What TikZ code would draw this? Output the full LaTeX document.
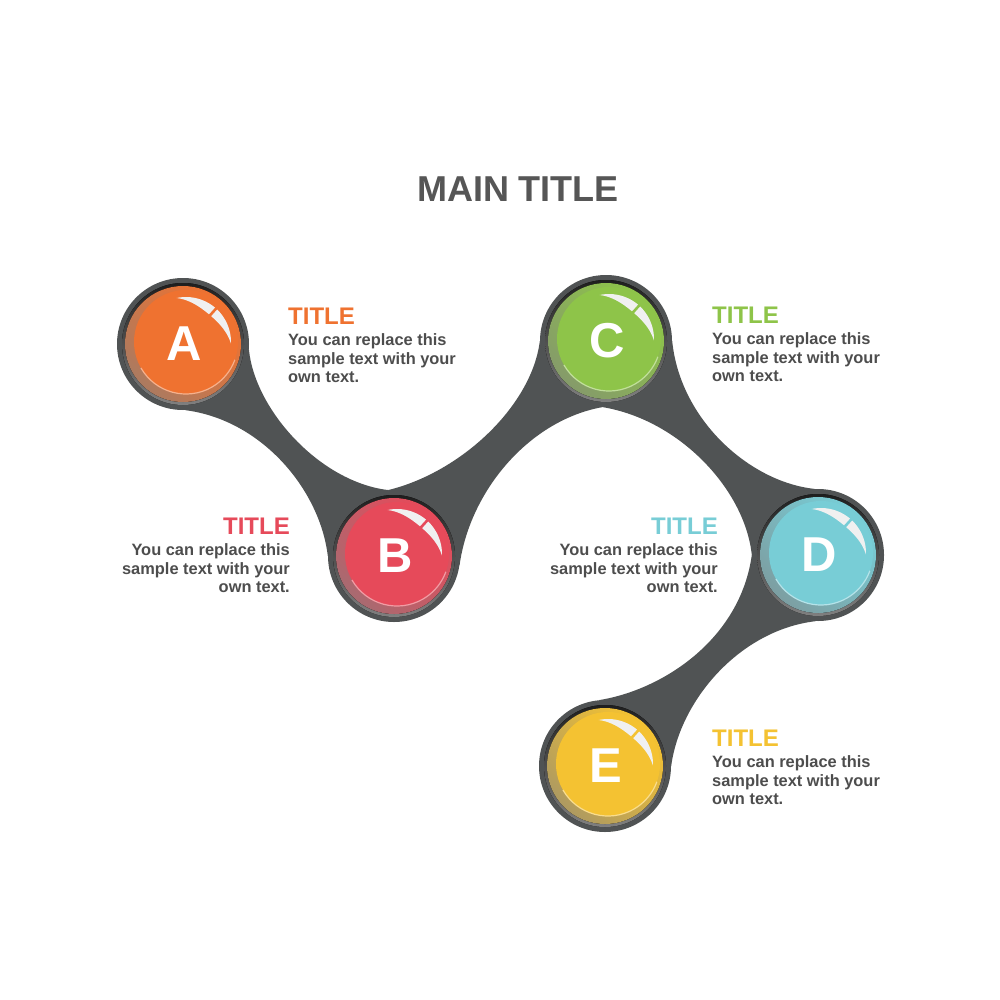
\documentclass[tikz,border=0pt]{standalone}
\usepackage{fontspec}
\setmainfont{Liberation Sans}
\usetikzlibrary{positioning}

\definecolor{bandgrey}{HTML}{505354}
\definecolor{textgrey}{HTML}{4D4D4D}
\definecolor{colA}{HTML}{EF7230}
\definecolor{colB}{HTML}{E64A5A}
\definecolor{colC}{HTML}{8EC449}
\definecolor{colD}{HTML}{78CDD6}
\definecolor{colE}{HTML}{F4C232}

% one glossy ball on top of a ring node
\newcommand{\ball}[3]{%
  \begin{scope}[shift={(#1.center)},x=1pt,y=1pt]
    \fill[top color=black!88, bottom color=black!50] (0,0) circle (61);
    \fill[left color=#2!40!gray, right color=#2, shading angle=135] (0,0) circle (58);
    \fill[#2] (3,2) circle (52);
    \draw[#2!55!white, line width=1.2pt] (3,2) ++(-150:52) arc[start angle=-150, end angle=-20, radius=52];
    \fill[white!94!black] plot[domain=102:-2, samples=25] ({3+45*cos(\x)},{2+45*sin(\x)})
      -- plot[domain=-2:102, samples=25] ({3+(45-9*sin(1.73*(\x+2)))*cos(\x)},{2+(45-9*sin(1.73*(\x+2)))*sin(\x)}) -- cycle;
    \draw[#2, line width=2.6pt] (3,2) ++(48:33) -- ++(48:15);
    \node[letter] at (1,0) {#3};
  \end{scope}}

\tikzset{
  ring/.style={circle, fill=bandgrey, minimum size=132pt, inner sep=0pt},
  letter/.style={text=white, font=\bfseries\fontsize{49}{49}\selectfont, inner sep=0pt},
  ttl/.style={font=\bfseries\fontsize{24}{24}\selectfont, inner sep=0pt},
  txt/.style={text=textgrey, font=\bfseries\fontsize{16.4}{18.8}\selectfont, inner sep=0pt},
}

\begin{document}
\begin{tikzpicture}[x=1pt, y=-1pt]
    \useasboundingbox[fill=white] (0,0) rectangle (1000,1000);

    % Place ring nodes
    \node [ring] (A) at (183,344) {};
    \node [ring] (B) at (394,556) {};
    \node [ring] (C) at (606,341) {};
    \node [ring] (D) at (818,555) {};
    \node [ring] (E) at (605,766) {};

    % Bands between the rings
    \fill [bandgrey] (A.-5) .. controls (255,410) and (320,482) .. (B.95)
        -- (B.center) -- (B.180) .. controls (320,490) and (262,420) .. (A.-88) -- (A.center) -- cycle;
    \fill [bandgrey] (B.95) .. controls (462,472) and (532,405) .. (C.180)
        -- (C.center) -- (C.-93) .. controls (530,420) and (470,490) .. (B.-8) -- (B.center) -- cycle;
    \fill [bandgrey] (C.0) .. controls (680,420) and (750,482) .. (D.93)
        -- (D.center) -- (D.180) .. controls (745,490) and (680,420) .. (C.-93) -- (C.center) -- cycle;
    \fill [bandgrey] (D.180) .. controls (740,640) and (662,690) .. (E.95)
        -- (E.center) -- (E.0) .. controls (680,700) and (740,630) .. (D.-92) -- (D.center) -- cycle;

    % Balls
    \ball{A}{colA}{A}
    \ball{B}{colB}{B}
    \ball{C}{colC}{C}
    \ball{D}{colD}{D}
    \ball{E}{colE}{E}

    % Texts
    \node [text=textgrey!95!white, font=\bfseries\fontsize{36}{36}\selectfont, inner sep=0pt, anchor=base] (main) at (518,202) {MAIN TITLE};

    \node [ttl, text=colA, anchor=base west] (tA) at (288,324) {TITLE};
    \node [txt, align=left, below=9pt of tA.south west, anchor=north west] (dA) {You can replace this\\sample text with your\\own text.};

    \node [ttl, text=colB, anchor=base east] (tB) at (290,534) {TITLE};
    \node [txt, align=right, below=9pt of tB.south east, anchor=north east] (dB) {You can replace this\\sample text with your\\own text.};

    \node [ttl, text=colC, anchor=base west] (tC) at (712,323) {TITLE};
    \node [txt, align=left, below=9pt of tC.south west, anchor=north west] (dC) {You can replace this\\sample text with your\\own text.};

    \node [ttl, text=colD, anchor=base east] (tD) at (718,534) {TITLE};
    \node [txt, align=right, below=9pt of tD.south east, anchor=north east] (dD) {You can replace this\\sample text with your\\own text.};

    \node [ttl, text=colE, anchor=base west] (tE) at (712,746) {TITLE};
    \node [txt, align=left, below=9pt of tE.south west, anchor=north west] (dE) {You can replace this\\sample text with your\\own text.};
\end{tikzpicture}
\end{document}
